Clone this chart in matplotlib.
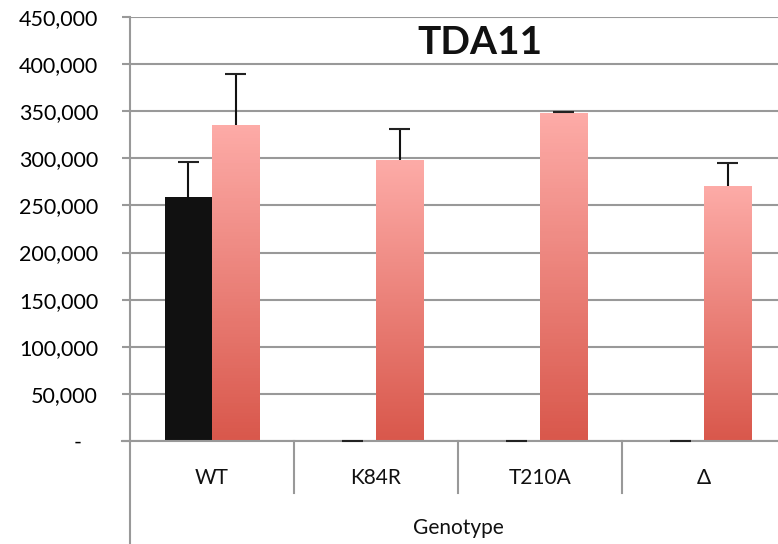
import numpy as np
from matplotlib import pyplot as plt
from matplotlib.colors import LinearSegmentedColormap

plt.rcParams.update({'font.family': ['Lato', 'DejaVu Sans'],
                     'text.color': '#111111'})

# data
genotypes = ['WT', 'K84R', 'T210A', 'Δ']
black_vals = [259000, 0, 0, 0]
black_err = [37000, 0, 0, 0]
pink_vals = [335000, 298000, 348000, 270500]
pink_err = [55000, 33000, 1000, 24500]
yticks = [0, 50000, 100000, 150000, 200000, 250000, 300000, 350000, 400000, 450000]

fig = plt.figure(figsize=(7.78, 5.44), dpi=100)
ax = fig.add_axes([130/778, 103/544, 656/778, 424/544])

x = np.arange(len(genotypes))
width = 0.287
off = 0.1435
cap = 0.062
grad = LinearSegmentedColormap.from_list('pinkgrad', ['#d9584c', '#fdaba7'])

ax.bar(x - off, black_vals, width, color='#111111', zorder=3)
for xi, v in zip(x + off, pink_vals):
    ax.imshow(np.linspace(0, 1, 100).reshape(-1, 1), cmap=grad, origin='lower',
              extent=(xi - width/2, xi + width/2, 0, v), aspect='auto', zorder=3)

# upper error bars only
for xs, vals, errs in [(x - off, black_vals, black_err), (x + off, pink_vals, pink_err)]:
    tops = np.array(vals) + np.array(errs)
    ax.vlines(xs, vals, tops, color='#111111', lw=1.5, zorder=6, clip_on=False)
    ax.hlines(tops, xs - cap, xs + cap, color='#222222', lw=1.5, zorder=6, clip_on=False)

ax.set_xlim(-0.5, 3.5)
ax.set_ylim(0, 450000)
ax.set_yticks(yticks)
ax.set_yticklabels(['-   '] + [f'{t:,}' for t in yticks[1:]], fontsize=15.5)
ax.yaxis.grid(True, color='#999999', linewidth=1.5, zorder=0)
ax.tick_params(axis='y', length=6, width=1.5, color='#999999', pad=17)
ax.set_xticks([])
for s in ['top', 'right', 'bottom']:
    ax.spines[s].set_visible(False)
ax.spines['left'].set_color('#999999')
ax.spines['left'].set_linewidth(1.5)
ax.spines['left'].set_bounds(0, 450000)

# category area below the plot
trans = ax.get_xaxis_transform()
ax.plot([-0.5, -0.5], [0, -103/424], transform=trans, color='#999999', lw=1.5, clip_on=False)
for d in [0.5, 1.5, 2.5]:
    ax.plot([d, d], [0, -52/424], transform=trans, color='#999999', lw=1.5, clip_on=False)
ax.plot([-0.55, 3.5], [0, 0], transform=trans, color='#999999', lw=1.5, clip_on=False, zorder=5)
for xi, g in zip(x, genotypes):
    ax.text(xi, -37/424, g, transform=trans, ha='center', va='center', fontsize=15)
ax.text(1.5, -87/424, 'Genotype', transform=trans, ha='center', va='center', fontsize=15)

fig.text(480/778, 1 - 42/544, 'TDA11', ha='center', va='center', fontsize=28, fontweight='bold')

fig.savefig('out.png', dpi=100)
